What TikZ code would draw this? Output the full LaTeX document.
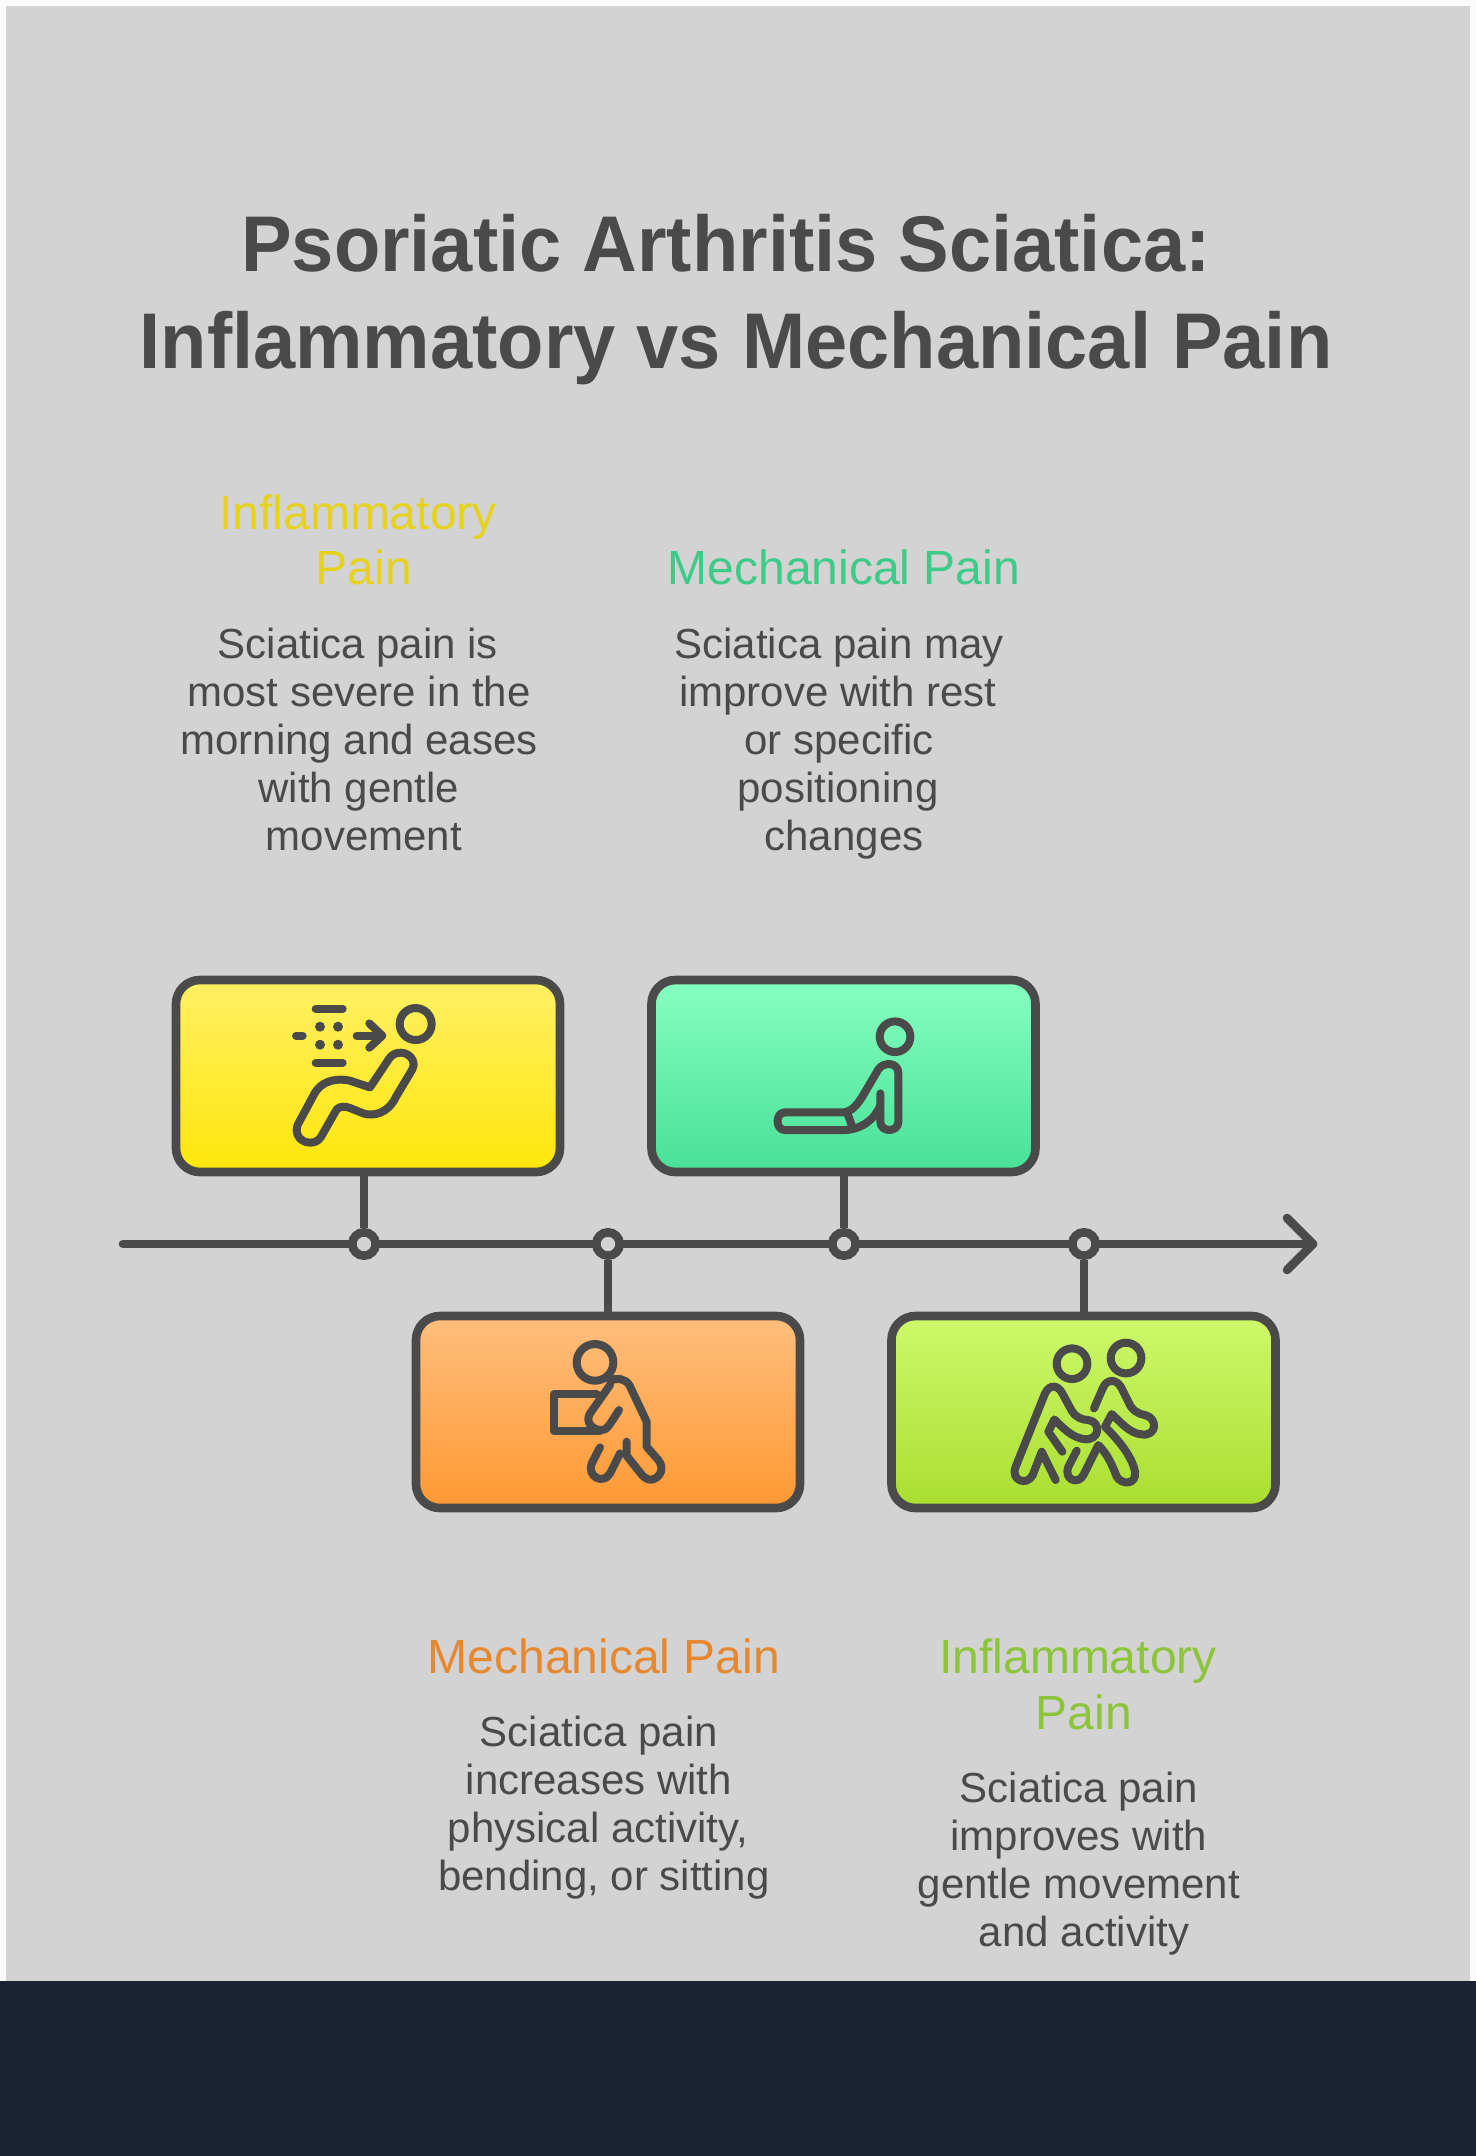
\documentclass[tikz,border=0pt]{standalone}
\usepackage{fontspec}
\setmainfont{Liberation Sans}
\newfontfamily\ttlf[FakeStretch=0.96]{Liberation Sans}
\definecolor{bgc}{HTML}{D3D3D3}
\definecolor{ink}{HTML}{4A4A4A}
\definecolor{darkb}{HTML}{1A2332}
\definecolor{edgec}{HTML}{FAFBFA}
\definecolor{tyel}{HTML}{E6D21A}
\definecolor{tgrn}{HTML}{3CCB88}
\definecolor{torg}{HTML}{E5882F}
\definecolor{tlim}{HTML}{8CC43A}
\tikzset{
 x=0.5pt,y=-0.5pt,
 ttl/.style={anchor=base,inner sep=0,font=\ttlf\bfseries\fontsize{39.5}{39.5}\selectfont,text=ink},
 hd/.style={anchor=base,inner sep=0,font=\fontsize{24}{24}\selectfont},
 bd/.style={anchor=base,inner sep=0,font=\fontsize{21}{21}\selectfont,text=ink},
 box/.style={draw=ink,line width=4.3pt,rounded corners=12pt,minimum width=192pt,minimum height=96pt,inner sep=0},
 dot/.style={circle,draw=ink,line width=4.3pt,fill=bgc,minimum size=11.7pt,inner sep=0},
 lnk/.style={draw=ink,line width=4.3pt},
 ic/.style={draw=ink,line width=4pt,line cap=round,line join=round},
 iconat/.style={x=0.166667pt,y=-0.166667pt,shift={#1}},
}
\begin{document}
\begin{tikzpicture}
\useasboundingbox (0,0) rectangle (1476,2156);
\fill[edgec] (0,0) rectangle (1476,2156);
\fill[bgc] (6,6) rectangle (1470,1981);
\fill[darkb] (0,1981) rectangle (1476,2156);
\node[ttl] (t1) at (726,272) {Psoriatic Arthritis Sciatica:};
\node[ttl] (t2) at (736,369) {Inflammatory vs Mechanical Pain};
\node[hd,text=tyel] (a1) at (358,529) {Inflammatory};
\node[hd,text=tyel] (a2) at (364,584) {Pain};
\node[bd] (a3) at (358,658) {Sciatica pain is};
\node[bd] (a4) at (359,706) {most severe in the};
\node[bd] (a5) at (359,754) {morning and eases};
\node[bd] (a6) at (359,802) {with gentle};
\node[bd] (a7) at (364,850) {movement};
\node[hd,text=tgrn] (b1) at (844,584) {Mechanical Pain};
\node[bd] (b2) at (839,658) {Sciatica pain may};
\node[bd] (b3) at (838,706) {improve with rest};
\node[bd] (b4) at (839,754) {or specific};
\node[bd] (b5) at (838,802) {positioning};
\node[bd] (b6) at (844,850) {changes};
\node[hd,text=torg] (c1) at (604,1673) {Mechanical Pain};
\node[bd] (c2) at (599,1746) {Sciatica pain};
\node[bd] (c3) at (599,1794) {increases with};
\node[bd] (c4) at (598,1842) {physical activity,};
\node[bd] (c5) at (604,1890) {bending, or sitting};
\node[hd,text=tlim] (d1) at (1078,1673) {Inflammatory};
\node[hd,text=tlim] (d2) at (1084,1729) {Pain};
\node[bd] (d3) at (1079,1802) {Sciatica pain};
\node[bd] (d4) at (1079,1850) {improves with};
\node[bd] (d5) at (1079,1898) {gentle movement};
\node[bd] (d6) at (1084,1946) {and activity};
% axis
\coordinate (s) at (123,1244);
\coordinate (e) at (1313,1244);
\coordinate (u) at (1287,1218);
\coordinate (v) at (1287,1270);
\draw[lnk,line cap=round] (s) -- (e);
\draw[lnk,line cap=round,line join=round] (u) -- (e) -- (v);
% boxes
\node[box,top color={rgb,255:red,255;green,240;blue,100},bottom color={rgb,255:red,255;green,230;blue,10}] (yb) at (368,1076) {};
\node[box,top color={rgb,255:red,134;green,255;blue,192},bottom color={rgb,255:red,72;green,224;blue,150}] (gb) at (843.5,1076) {};
\node[box,top color={rgb,255:red,255;green,190;blue,125},bottom color={rgb,255:red,255;green,153;blue,51}] (ob) at (608,1412) {};
\node[box,top color={rgb,255:red,205;green,249;blue,107},bottom color={rgb,255:red,169;green,222;blue,48}] (lb) at (1083.5,1412) {};
% milestones
\node[dot] (p1) at (364,1244) {};
\node[dot] (p2) at (608,1244) {};
\node[dot] (p3) at (844,1244) {};
\node[dot] (p4) at (1084,1244) {};
\draw[lnk] (p1.north) -- (p1 |- yb.south);
\draw[lnk] (p2.south) -- (p2 |- ob.north);
\draw[lnk] (p3.north) -- (p3 |- gb.south);
\draw[lnk] (p4.south) -- (p4 |- lb.north);
% icon 1
\begin{scope}[iconat={(450,2850)}]
\draw[ic] (797,222) circle (48);
\draw[ic] (497,176) -- (578,176);
\draw[ic] (497,338) -- (578,338);
\fill[ink] (510,230) circle (15) (564,230) circle (15) (510,284) circle (15) (564,284) circle (15);
\draw[ic] (438,257) -- (458,257);
\draw[ic] (620,257) -- (695,257);
\draw[ic] (658,220) -- (697,257) -- (658,293);
\draw[ic] (660,412) -- (718,325) .. controls (735,300) and (775,303) .. (788,330) .. controls (792,342) and (792,350) .. (787,358) -- (738,440) .. controls (715,490) and (670,500) .. (640,490) -- (600,474) .. controls (585,468) and (570,468) .. (560,478) -- (512,562) .. controls (495,590) and (440,580) .. (440,540) .. controls (440,530) and (442,525) .. (448,515) -- (490,437) .. controls (515,385) and (570,385) .. (600,392) -- cycle;
\end{scope}
% icon 2
\begin{scope}[iconat={(1890,2850)}]
\draw[ic] (795,260) circle (46);
\draw[ic] (465,487) -- (640,487) .. controls (665,485) and (680,465) .. (695,443) -- (745,358) .. controls (760,335) and (805,335) .. (805,370) -- (805,515) .. controls (805,548) and (751,548) .. (751,515) -- (751,430);
\draw[ic] (465,487) .. controls (435,487) and (435,540) .. (465,540) -- (640,540) .. controls (690,540) and (735,510) .. (751,465);
\draw[ic] (652,490) -- (665,525);
\end{scope}
% icon 3
\begin{scope}[iconat={(1200,3870)}]
\draw[ic] (585,217) circle (55);
\draw[ic] (590,313) -- (462,313) -- (462,423) -- (600,423);
\draw[ic] (630,272) .. controls (650,262) and (675,265) .. (688,285) -- (740,395) -- (740,470) -- (775,510) .. controls (800,540) and (770,575) .. (745,568) .. controls (735,565) and (730,560) .. (722,550) -- (680,497) -- (680,455);
\draw[ic] (600,472) -- (575,520) .. controls (560,560) and (610,585) .. (630,550) -- (660,490);
\draw[ic] (630,285) -- (570,370) .. controls (555,395) and (575,420) .. (605,420) .. controls (620,420) and (625,410) .. (657,360);
\end{scope}
% icon 4
\begin{scope}[iconat={(2610,3870)}]
\draw[ic] (606,221) circle (46);
\draw[ic] (768,204) circle (46);
\draw[ic] (557,570) -- (515,485) -- (488,555) .. controls (470,590) and (420,570) .. (437,530) -- (525,310) .. controls (540,280) and (565,285) .. (578,312) -- (605,362) .. controls (615,380) and (635,390) .. (655,390) .. controls (695,395) and (690,455) .. (640,447) .. controls (605,440) and (585,420) .. (553,388) -- (535,425) -- (577,485);
\draw[ic] (672,355) -- (698,295) .. controls (710,265) and (740,265) .. (755,295) -- (775,335) .. controls (785,360) and (800,370) .. (825,375) .. controls (865,385) and (860,440) .. (815,433) .. controls (780,430) and (755,400) .. (725,372) -- (705,410) .. controls (740,445) and (785,495) .. (795,545) .. controls (800,585) and (755,585) .. (740,560) .. controls (725,520) and (710,490) .. (685,465) -- (640,555) .. controls (625,585) and (580,570) .. (595,530) -- (620,482);
\end{scope}
\end{tikzpicture}
\end{document}
